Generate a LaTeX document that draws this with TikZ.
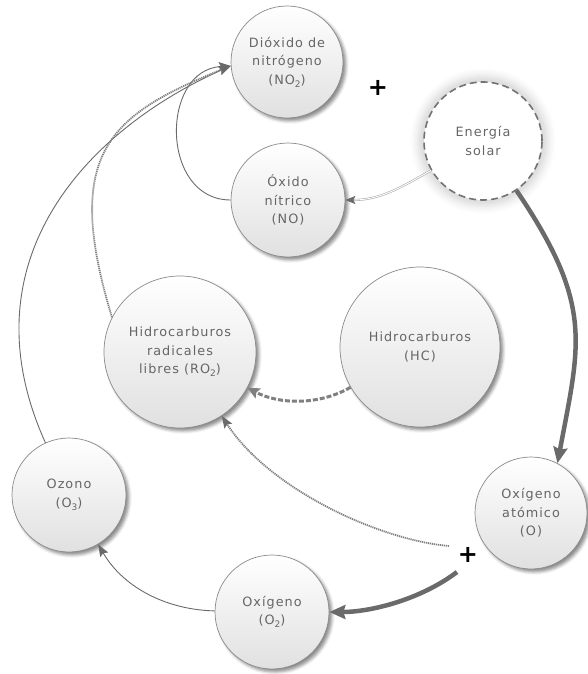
\documentclass[tikz,border=0pt]{standalone}
\usepackage{fontspec}
\newfontfamily\lbl[LetterSpace=8]{DejaVu Sans}
\newfontfamily\plusfont{DejaVu Sans}
\usetikzlibrary{shadows,shadows.blur,arrows.meta}
\definecolor{txt}{HTML}{666666}
\definecolor{edge}{HTML}{8A8A8A}
\definecolor{arr}{HTML}{6A6A6A}
\newcommand{\sbs}[1]{\raisebox{-0.45ex}{\fontsize{9}{9}\selectfont #1}}
\begin{document}
\begin{tikzpicture}[x=1pt,y=-1pt,
  bub/.style={circle, draw=edge, line width=0.7pt, top color=white, bottom color=gray!24,
    inner sep=0pt, minimum size=#1, align=center, text=txt,
    font=\lbl\fontsize{12.8}{18.5}\selectfont,
    blur shadow={shadow xshift=3pt, shadow yshift=-3pt, shadow blur radius=3pt, shadow opacity=45}},
  solar/.style={circle, draw=black!55, line width=1.6pt, dash pattern=on 7pt off 4pt, fill=white,
    inner sep=0pt, minimum size=#1, align=center, text=txt,
    font=\lbl\fontsize{12.8}{18.5}\selectfont,
    blur shadow={shadow xshift=0pt, shadow yshift=0pt, shadow scale=1.1, shadow blur radius=7pt, shadow opacity=16}},
  plussign/.style={inner sep=0pt, font=\plusfont\bfseries\fontsize{24}{24}\selectfont, text=black},
  thinarrow/.style={draw=arr, line width=0.9pt, -{Stealth[length=12pt, width=9pt, inset=2pt]}},
  dotarrow/.style={draw=black!50, line width=1.8pt, dash pattern=on 1.2pt off 0.8pt,
    -{Stealth[length=12pt, width=9pt, inset=2pt, color=arr]}},
  dblarrow/.style={draw=gray!65, line width=0.6pt, double=white, double distance=0.9pt,
    -{Stealth[length=10pt, width=8pt, inset=2pt, color=arr]}},
  dasharrow/.style={draw=arr!85, line width=3pt, dash pattern=on 5pt off 2pt,
    -{Stealth[length=12pt, width=11pt, inset=2pt]}},
  bigarrow/.style={draw=arr, line width=4.5pt, -{Stealth[length=16pt, width=14pt, inset=2pt]}}
]
\useasboundingbox (0,0) rectangle (587,674);

\node[bub=112] (no2) at (287,62) {Dióxido de\\nitrógeno\\(NO\sbs{2})};
\node[bub=114] (no) at (288,200) {Óxido\\nítrico\\(NO)};
\node[solar=118] (sol) at (483,141) {Energía\\solar};
\node[bub=152] (ro2) at (180,352) {Hidrocarburos\\radicales\\libres (RO\sbs{2})};
\node[bub=160] (hc) at (420,347) {Hidrocarburos\\(HC)};
\node[bub=114] (oz) at (69,495) {Ozono\\(O\sbs{3})};
\node[bub=112] (o) at (531,513) {Oxígeno\\atómico\\(O)};
\node[bub=114] (o2) at (272,612) {Oxígeno\\(O\sbs{2})};

\node[plussign] (pa) at (378,88) {+};
\node[plussign] (pb) at (468,555) {+};

\coordinate (s1) at (449,546);
\coordinate (s2) at (457,572);

\draw[dblarrow] (sol) .. controls (400,188) and (380,200) .. (no);
\draw[thinarrow] (no) .. controls (160,200) and (160,70) .. (no2.184);
\draw[thinarrow] (oz) .. controls (-38,258) and (91,128) .. (no2.184);
\draw[dotarrow] (ro2.153) .. controls (62,153) and (109,115) .. (no2.184);
\draw[dasharrow] (hc) .. controls (320,405) and (280,405) .. (ro2);
\draw[dotarrow] (s1) .. controls (380,540) and (270,490) .. (ro2);
\draw[bigarrow] (sol) .. controls (594,305) and (580,343) .. (o.62);
\draw[bigarrow] (s2) .. controls (420,600) and (370,612) .. (o2);
\draw[thinarrow] (o2) .. controls (170,610) and (125,590) .. (oz);
\end{tikzpicture}
\end{document}
